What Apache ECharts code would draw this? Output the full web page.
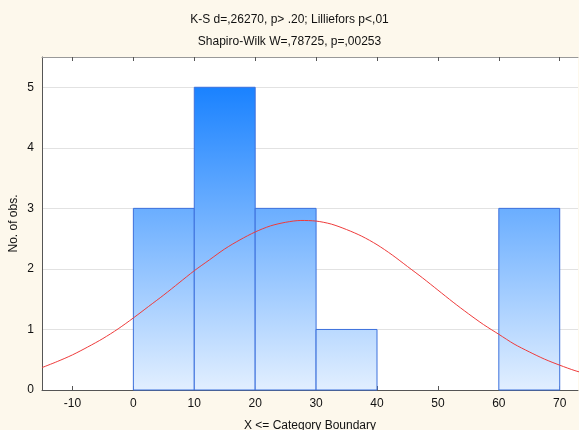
<!DOCTYPE html>
<html><head><meta charset="utf-8">
<script src="https://cdn.jsdelivr.net/npm/echarts@6/dist/echarts.min.js"></script>
<style>html,body{margin:0;padding:0;background:#fdf8ec;}#c{width:579px;height:430px;}</style>
</head><body><div id="c"></div>
<script>
const binStart = [0, 10, 20, 30, 60];
const binEnd   = [10, 20, 30, 40, 70];
const counts   = [3, 5, 3, 1, 3];
const curveX = [-15, -12.5, -10, -7.5, -5, -2.5, 0, 2.5, 5, 7.5, 10, 12.5, 15, 17.5, 20, 22.5, 25, 27.5, 30, 32.5, 35, 37.5, 40, 42.5, 45, 47.5, 50, 52.5, 55, 57.5, 60, 62.5, 65, 67.5, 70, 72.5, 75];
const curveY = [0.37, 0.47, 0.58, 0.71, 0.85, 1.01, 1.19, 1.38, 1.57, 1.77, 1.97, 2.15, 2.33, 2.48, 2.61, 2.71, 2.77, 2.80, 2.79, 2.74, 2.65, 2.54, 2.40, 2.23, 2.04, 1.85, 1.65, 1.45, 1.26, 1.08, 0.92, 0.76, 0.63, 0.51, 0.41, 0.32, 0.25];
const xTicks = [-10, 0, 10, 20, 30, 40, 50, 60, 70];
const yTicks = [0, 1, 2, 3, 4, 5];
const title1 = 'K-S d=,26270, p> .20; Lilliefors p<,01';
const title2 = 'Shapiro-Wilk W=,78725, p=,00253';

const font = 'Liberation Sans, Arial, sans-serif';
const chart = echarts.init(document.getElementById('c'));
const barData = binStart.map((s, i) => [s, binEnd[i], counts[i]]);
const lineData = curveX.map((x, i) => [x, curveY[i]]);

chart.setOption({
  backgroundColor: '#fdf8ec',
  animation: false,
  title: [
    {text: title1, left: 'center', top: 9, textStyle: {fontFamily: font, fontSize: 12, fontWeight: 'normal', color: '#111'}},
    {text: title2, left: 'center', top: 31, textStyle: {fontFamily: font, fontSize: 12, fontWeight: 'normal', color: '#111'}}
  ],
  grid: {left: 42, right: 1, top: 57, bottom: 40, outerBoundsMode: 'none', containLabel: false, show: true, backgroundColor: '#fff', borderWidth: 0},
  xAxis: [{
    type: 'value', min: -15, max: 73, position: 'bottom',
    name: 'X <= Category Boundary', nameLocation: 'middle', nameGap: 30, nameMoveOverlap: false,
    nameTextStyle: {fontFamily: font, fontSize: 12, color: '#111'},
    axisLine: {show: true, onZero: false, lineStyle: {color: '#555', width: 1}},
    axisTick: {show: true, inside: true, length: 4, customValues: xTicks, lineStyle: {color: '#555'}},
    axisLabel: {customValues: xTicks, fontFamily: font, fontSize: 12, color: '#111', margin: 8},
    splitLine: {show: false}
  }, {
    type: 'value', min: -15, max: 73, position: 'top',
    axisLine: {show: true, onZero: false, lineStyle: {color: '#999', width: 1}},
    axisTick: {show: true, inside: true, length: 4, customValues: xTicks, lineStyle: {color: '#555'}},
    axisLabel: {show: false},
    splitLine: {show: false}
  }],
  yAxis: {
    type: 'value', min: 0, max: 5.5, interval: 1,
    name: 'No. of obs.', nameLocation: 'middle', nameGap: 22, nameMoveOverlap: false,
    nameTextStyle: {fontFamily: font, fontSize: 12, color: '#111'},
    axisLine: {show: true, onZero: false, lineStyle: {color: '#555', width: 1}},
    axisTick: {show: false},
    axisLabel: {customValues: yTicks, fontFamily: font, fontSize: 12, color: '#111', margin: 8},
    splitLine: {show: true, lineStyle: {color: '#e2e2e2', width: 1}}
  },
  series: [{
    type: 'custom',
    data: barData,
    encode: {x: [0, 1], y: 2},
    renderItem: function (params, api) {
      const p0 = api.coord([api.value(0), api.value(2)]);
      const p1 = api.coord([api.value(1), 0]);
      const top = api.coord([0, 5])[1];
      const bot = api.coord([0, 0])[1];
      return {
        type: 'rect',
        shape: {x: p0[0], y: p0[1], width: p1[0] - p0[0], height: p1[1] - p0[1]},
        style: {
          fill: new echarts.graphic.LinearGradient(0, top, 0, bot, [
            {offset: 0, color: '#1a82ff'}, {offset: 1, color: '#e2efff'}
          ], true),
          stroke: '#3c70dc', lineWidth: 1
        }
      };
    }
  }, {
    type: 'line',
    data: lineData,
    smooth: 0.3,
    showSymbol: false,
    lineStyle: {color: '#ee3b3b', width: 1},
    z: 5
  }]
});
</script></body></html>
